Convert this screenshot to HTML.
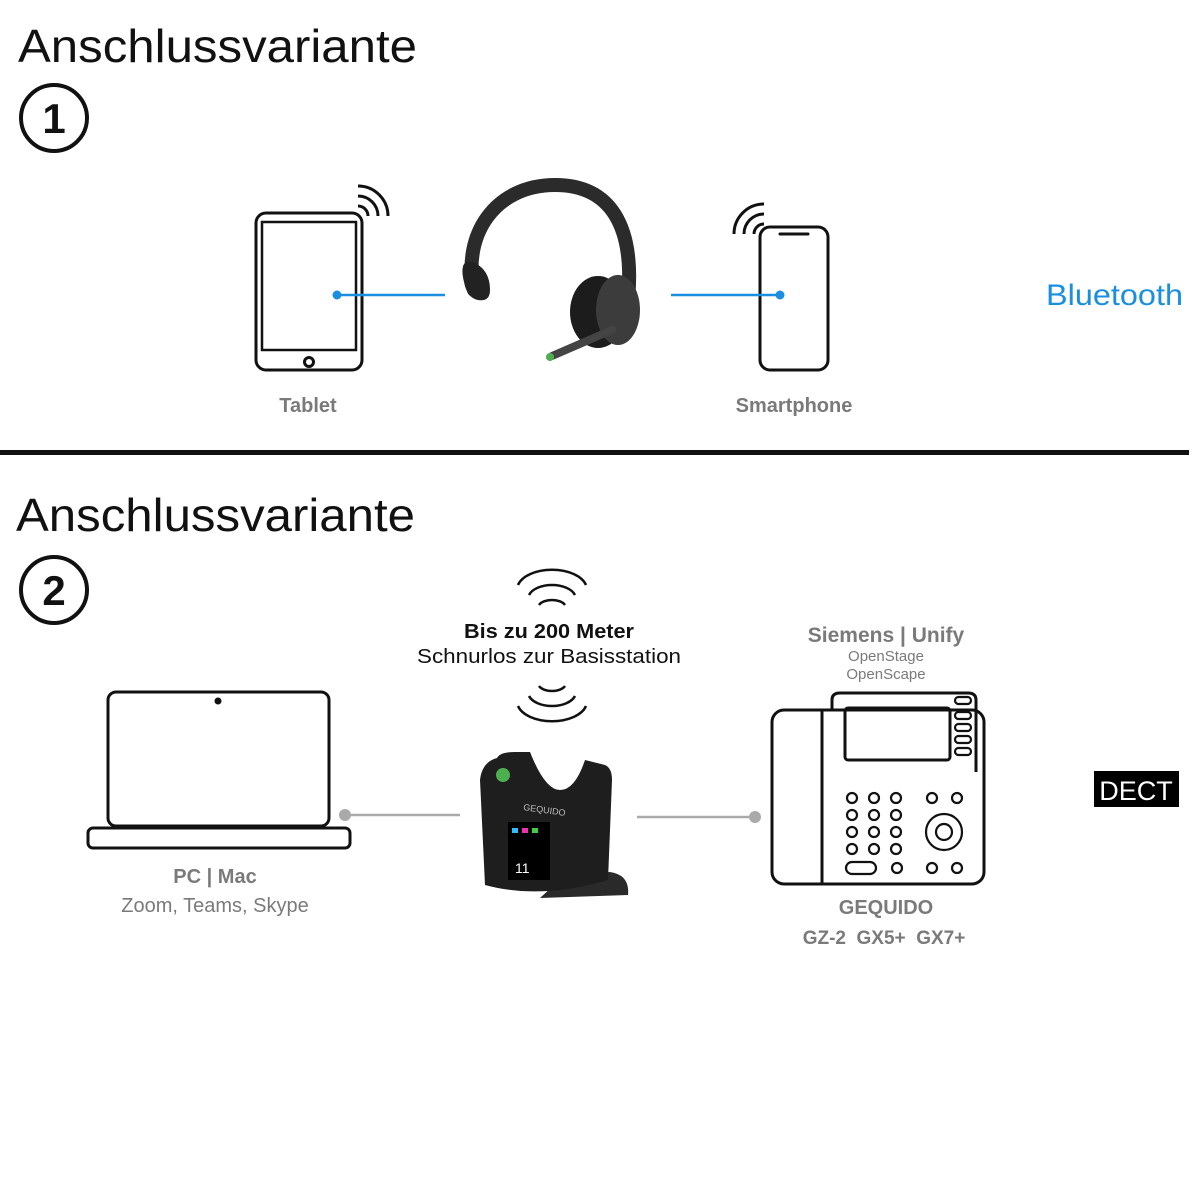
<!DOCTYPE html>
<html><head><meta charset="utf-8"><style>
html,body{margin:0;padding:0;background:#fff;}
svg{display:block;font-family:"Liberation Sans",sans-serif;}
</style></head><body>
<svg width="1204" height="1200" viewBox="0 0 1204 1200" xmlns="http://www.w3.org/2000/svg">
<text x="18" y="62" font-size="46" fill="#111" textLength="399" lengthAdjust="spacingAndGlyphs">Anschlussvariante</text>
<circle cx="54" cy="118" r="33" fill="none" stroke="#111" stroke-width="4"/>
<text x="54" y="133" font-size="42" font-weight="bold" text-anchor="middle" fill="#111">1</text>
<rect x="0" y="450" width="1189" height="5" fill="#111"/>
<text x="16" y="531" font-size="46" fill="#111" textLength="399" lengthAdjust="spacingAndGlyphs">Anschlussvariante</text>
<circle cx="54" cy="590" r="33" fill="none" stroke="#111" stroke-width="4"/>
<text x="54" y="605" font-size="42" font-weight="bold" text-anchor="middle" fill="#111">2</text>

<!-- Tablet -->
<g fill="none" stroke="#111" stroke-width="3">
<rect x="256" y="213" width="106" height="157" rx="10"/>
<rect x="262" y="222" width="94" height="128" stroke-width="2.5"/>
<circle cx="309" cy="362" r="4.5"/>
<path d="M358 206 a10 10 0 0 1 10 10 M358 196 a20 20 0 0 1 20 20 M358 186 a30 30 0 0 1 30 30"/>
<!-- phone -->
<rect x="760" y="227" width="68" height="143" rx="10"/>
<path d="M780 234 h28" stroke-width="3" stroke-linecap="round"/>
<path d="M754 234 a10 10 0 0 1 10 -10 M744 234 a20 20 0 0 1 20 -20 M734 234 a30 30 0 0 1 30 -30"/>
</g>
<g stroke="#1a8fe0" stroke-width="2.5"><line x1="337" y1="295" x2="445" y2="295"/><line x1="671" y1="295" x2="780" y2="295"/></g>
<circle cx="337" cy="295" r="4.5" fill="#1a8fe0"/><circle cx="780" cy="295" r="4.5" fill="#1a8fe0"/>
<text x="308" y="412" font-size="20" font-weight="bold" text-anchor="middle" fill="#7a7a7a">Tablet</text>
<text x="794" y="412" font-size="20" font-weight="bold" text-anchor="middle" fill="#7a7a7a">Smartphone</text>
<text x="1046" y="305" font-size="30" fill="#1a8fe0" textLength="137" lengthAdjust="spacingAndGlyphs">Bluetooth</text>

<!-- Headset -->
<g>
<path d="M474 290 C462 235 495 185 555 185 C610 185 635 225 628 300" fill="none" stroke="#2b2b2b" stroke-width="14" stroke-linecap="round"/>
<path d="M466 262 q-6 4 -2 20 q3 16 14 18 q12 2 12 -10 q0 -14 -8 -22 q-8 -8 -16 -6z" fill="#222"/>
<ellipse cx="598" cy="312" rx="28" ry="36" fill="#1c1c1c"/>
<ellipse cx="618" cy="310" rx="22" ry="35" fill="#3c3c3c"/>
<path d="M612 330 L552 356" stroke="#444" stroke-width="8" stroke-linecap="round"/>
<circle cx="550" cy="357" r="4" fill="#4caf50"/>
</g>

<!-- wifi arcs section 2 -->
<g fill="none" stroke="#111" stroke-width="2.5">
<path d="M539 605 a14 8 0 0 1 26 0 M529 595 a24 14 0 0 1 46 0 M518 585 a35 20 0 0 1 68 0"/>
<path d="M539 686 a14 8 0 0 0 26 0 M529 696 a24 14 0 0 0 46 0 M518 706 a35 20 0 0 0 68 0"/>
</g>
<text x="549" y="638" font-size="20" font-weight="bold" text-anchor="middle" fill="#111" textLength="170" lengthAdjust="spacingAndGlyphs">Bis zu 200 Meter</text>
<text x="549" y="663" font-size="20" text-anchor="middle" fill="#111" textLength="264" lengthAdjust="spacingAndGlyphs">Schnurlos zur Basisstation</text>

<!-- Laptop -->
<g fill="none" stroke="#111" stroke-width="3">
<rect x="108" y="692" width="221" height="134" rx="8"/>
<rect x="88" y="828" width="262" height="20" rx="5"/>
</g>
<circle cx="218" cy="701" r="3.5" fill="#111"/>
<g stroke="#aaa" stroke-width="2.5"><line x1="345" y1="815" x2="460" y2="815"/><line x1="637" y1="817" x2="755" y2="817"/></g>
<circle cx="345" cy="815" r="6" fill="#aaa"/><circle cx="755" cy="817" r="6" fill="#aaa"/>
<text x="215" y="883" font-size="20" font-weight="bold" text-anchor="middle" fill="#7a7a7a">PC | Mac</text>
<text x="215" y="912" font-size="20" text-anchor="middle" fill="#7a7a7a">Zoom, Teams, Skype</text>

<!-- base station -->
<path d="M565 875 L610 872 Q630 875 628 895 L540 898 Z" fill="#2a2a2a"/>
<path d="M497 758 Q500 752 515 752 L530 752 Q545 790 560 790 Q575 790 585 760 L605 765 Q612 768 612 780 L608 880 Q540 900 485 885 L480 780 Q482 762 497 758Z" fill="#1e1e1e"/>
<rect x="508" y="822" width="42" height="58" fill="#000"/>
<text x="515" y="873" font-size="14" fill="#fff">11</text>
<rect x="512" y="828" width="6" height="5" fill="#3bf"/><rect x="522" y="828" width="6" height="5" fill="#e3a"/><rect x="532" y="828" width="6" height="5" fill="#4c4"/>
<circle cx="503" cy="775" r="7" fill="#4caf50"/>
<text x="523" y="810" font-size="9" fill="#bbb" transform="rotate(8 523 810)">GEQUIDO</text>

<!-- desk phone -->
<g fill="none" stroke="#111" stroke-width="3">
<rect x="772" y="710" width="212" height="174" rx="12"/>
<line x1="822" y1="710" x2="822" y2="884"/>
<path d="M832 710 V700 Q832 693 840 693 H968 Q976 693 976 700 V772"/>
<rect x="845" y="708" width="105" height="52" rx="3"/>
</g>
<g fill="none" stroke="#111" stroke-width="2.2">
<rect x="955" y="697" width="16" height="7" rx="3.5"/>
<rect x="955" y="712" width="16" height="7" rx="3.5"/><rect x="955" y="724" width="16" height="7" rx="3.5"/><rect x="955" y="736" width="16" height="7" rx="3.5"/><rect x="955" y="748" width="16" height="7" rx="3.5"/>
<circle cx="852" cy="798" r="5"/><circle cx="874" cy="798" r="5"/><circle cx="896" cy="798" r="5"/>
<circle cx="852" cy="815" r="5"/><circle cx="874" cy="815" r="5"/><circle cx="896" cy="815" r="5"/>
<circle cx="852" cy="832" r="5"/><circle cx="874" cy="832" r="5"/><circle cx="896" cy="832" r="5"/>
<circle cx="852" cy="849" r="5"/><circle cx="874" cy="849" r="5"/><circle cx="896" cy="849" r="5"/>
<circle cx="932" cy="798" r="5"/><circle cx="957" cy="798" r="5"/>
<circle cx="944" cy="832" r="18"/><circle cx="944" cy="832" r="8"/>
<circle cx="932" cy="868" r="5"/><circle cx="957" cy="868" r="5"/>
<rect x="846" y="862" width="30" height="12" rx="6"/><circle cx="897" cy="868" r="5"/>
</g>
<text x="886" y="642" font-size="21" font-weight="bold" text-anchor="middle" fill="#7a7a7a">Siemens | Unify</text>
<text x="886" y="661" font-size="15" text-anchor="middle" fill="#7a7a7a">OpenStage</text>
<text x="886" y="679" font-size="15" text-anchor="middle" fill="#7a7a7a">OpenScape</text>
<text x="886" y="914" font-size="20" font-weight="bold" text-anchor="middle" fill="#7a7a7a">GEQUIDO</text>
<text x="884" y="944" font-size="19" font-weight="bold" text-anchor="middle" fill="#7a7a7a" xml:space="preserve">GZ-2  GX5+  GX7+</text>

<rect x="1094" y="771" width="85" height="36" fill="#000"/>
<text x="1136" y="800" font-size="27" text-anchor="middle" fill="#fff">DECT</text>
</svg>
</body></html>
